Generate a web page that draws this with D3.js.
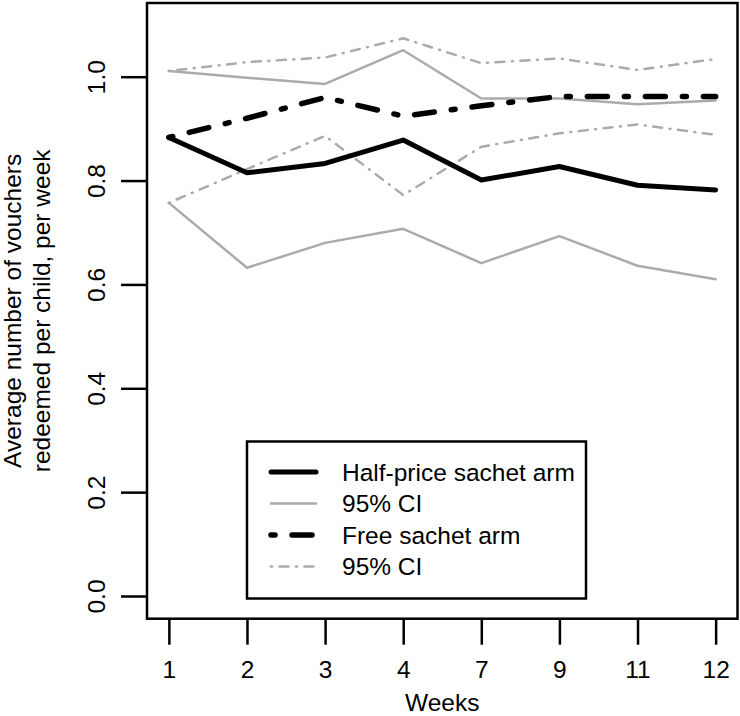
<!DOCTYPE html>
<html>
<head>
<meta charset="utf-8">
<script src="https://cdn.jsdelivr.net/npm/d3@7"></script>
<style>
  html, body { margin: 0; padding: 0; background: #fff; }
  svg { display: block; }
  text { font-family: "Liberation Sans", Arial, Helvetica, sans-serif; fill: #000; }
</style>
</head>
<body>
<svg id="chart" width="740" height="716"></svg>
<script>
const weeks = ["1", "2", "3", "4", "7", "9", "11", "12"];
const halfPrice = [0.883, 0.815, 0.833, 0.878, 0.801, 0.827, 0.791, 0.782];
const halfLower = [0.757, 0.632, 0.680, 0.707, 0.641, 0.693, 0.636, 0.610];
const halfUpper = [1.011, 0.998, 0.986, 1.051, 0.958, 0.958, 0.947, 0.954];
const freeSachet = [0.883, 0.920, 0.960, 0.924, 0.944, 0.962, 0.962, 0.962];
const freeLower = [0.757, 0.822, 0.886, 0.772, 0.865, 0.891, 0.908, 0.888];
const freeUpper = [1.011, 1.028, 1.037, 1.074, 1.026, 1.035, 1.013, 1.034];
const yTicks = [0, 0.2, 0.4, 0.6, 0.8, 1.0];
const legendLabels = ["Half-price sachet arm", "95% CI", "Free sachet arm", "95% CI"];
const xTitle = "Weeks";
const yTitle = ["Average number of vouchers", "redeemed per child, per week"];

const svg = d3.select("#chart");
const box = { left: 147, right: 737.5, top: 3, bottom: 618.7 };
const FS = 24.5;
const GRAY = "#ababab";

const x = d3.scalePoint().domain(weeks).range([box.left, box.right]).padding(0.28);
const y = d3.scaleLinear().domain([0, 1]).range([596, 76.7]);

const styles = {
  solidBlack: { stroke: "#000", width: 5, dash: null },
  solidGray: { stroke: GRAY, width: 2.5, dash: null },
  dashBlack: { stroke: "#000", width: 5.5, dash: "4,17,20,17" },
  dashGray: { stroke: GRAY, width: 2.5, dash: "1,7.5,9,7.5" }
};

const series = [
  { values: halfLower, style: styles.solidGray },
  { values: halfUpper, style: styles.solidGray },
  { values: freeLower, style: styles.dashGray },
  { values: freeUpper, style: styles.dashGray },
  { values: halfPrice, style: styles.solidBlack },
  { values: freeSachet, style: styles.dashBlack }
];

const line = d3.line().x((d, i) => x(weeks[i])).y(d => y(d));

svg.append("g").selectAll("path").data(series).join("path")
  .attr("d", d => line(d.values))
  .attr("fill", "none")
  .attr("stroke", d => d.style.stroke)
  .attr("stroke-width", d => d.style.width)
  .attr("stroke-dasharray", d => d.style.dash)
  .attr("stroke-linecap", "round")
  .attr("stroke-linejoin", "round");

// Plot box
svg.append("rect")
  .attr("x", box.left).attr("y", box.top)
  .attr("width", box.right - box.left).attr("height", box.bottom - box.top)
  .attr("fill", "none").attr("stroke", "#000").attr("stroke-width", 2.5);

// X axis
const xAxis = svg.append("g").attr("transform", `translate(0,${box.bottom})`)
  .call(d3.axisBottom(x).tickSize(26).tickPadding(0));
xAxis.select(".domain").remove();
xAxis.selectAll(".tick line").attr("stroke", "#000").attr("stroke-width", 2.5);
xAxis.selectAll(".tick text").attr("font-size", FS).attr("dy", null).attr("y", 59.3)
  .attr("font-family", '"Liberation Sans", Arial, sans-serif');

// Y axis
const yAxis = svg.append("g").attr("transform", `translate(${box.left},0)`)
  .call(d3.axisLeft(y).tickValues(yTicks).tickFormat(d3.format(".1f")).tickSize(26));
yAxis.select(".domain").remove();
yAxis.selectAll(".tick line").attr("stroke", "#000").attr("stroke-width", 2.5);
yAxis.selectAll(".tick text")
  .attr("font-size", FS)
  .attr("font-family", '"Liberation Sans", Arial, sans-serif')
  .attr("x", null).attr("dy", null)
  .attr("text-anchor", "middle")
  .attr("transform", `translate(${105 - box.left},0) rotate(-90)`);

// Axis titles
svg.append("text")
  .attr("x", (box.left + box.right) / 2).attr("y", 711)
  .attr("text-anchor", "middle").attr("font-size", FS).text(xTitle);

const yMid = (box.top + box.bottom) / 2;
svg.append("g").selectAll("text").data(yTitle).join("text")
  .attr("transform", (d, i) => `translate(${[21, 50][i]},${yMid}) rotate(-90)`)
  .attr("text-anchor", "middle").attr("font-size", FS)
  .text(d => d);

// Legend
const lg = { left: 247, top: 441.5, right: 586, bottom: 598.5 };
svg.append("rect")
  .attr("x", lg.left).attr("y", lg.top)
  .attr("width", lg.right - lg.left).attr("height", lg.bottom - lg.top)
  .attr("fill", "#fff").attr("stroke", "#000").attr("stroke-width", 2.5);

const legendStyles = [styles.solidBlack, styles.solidGray, styles.dashBlack, styles.dashGray];
const rowY = [472, 503.5, 535, 566.5];
const lgItems = svg.append("g").selectAll("g").data(legendLabels).join("g")
  .attr("transform", (d, i) => `translate(0,${rowY[i]})`);
lgItems.append("line")
  .attr("x1", 271).attr("x2", 316).attr("y1", 0).attr("y2", 0)
  .attr("stroke", (d, i) => legendStyles[i].stroke)
  .attr("stroke-width", (d, i) => legendStyles[i].width)
  .attr("stroke-dasharray", (d, i) => legendStyles[i].dash)
  .attr("stroke-linecap", "round");
lgItems.append("text")
  .attr("x", 342).attr("y", 0).attr("dy", "0.36em")
  .attr("font-size", FS).text(d => d);
</script>
</body>
</html>
